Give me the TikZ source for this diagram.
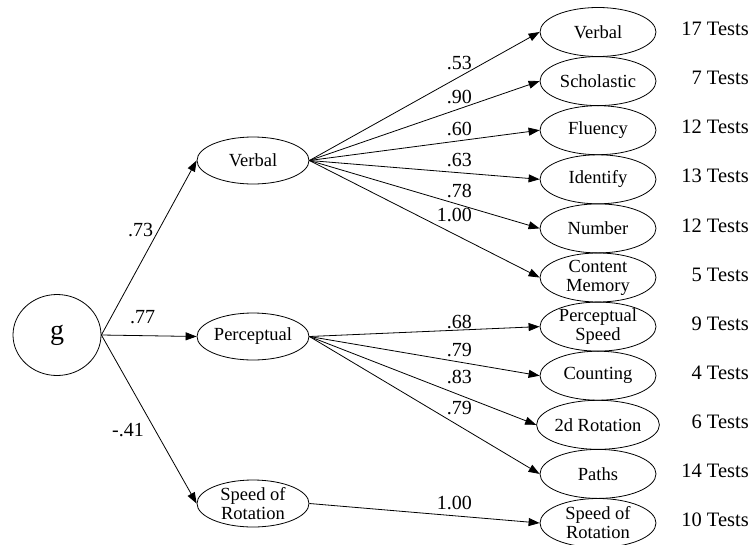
\documentclass[tikz,border=0pt]{standalone}
\usepackage{fontspec}
\setmainfont{Liberation Serif}
\usetikzlibrary{shapes.geometric,arrows.meta}
\begin{document}
\begin{tikzpicture}[x=1pt,y=-1pt,
  lv/.style={ellipse,draw,line width=0.8pt,inner sep=0pt,minimum width=112pt,minimum height=47pt,font=\fontsize{18.5}{20}\selectfont},
  rt/.style={ellipse,draw,line width=0.8pt,inner sep=0pt,minimum width=116pt,minimum height=49pt,font=\fontsize{18.5}{20}\selectfont},
  wt/.style={font=\fontsize{20}{22}\selectfont,inner sep=0pt,anchor=east},
  wl/.style={font=\fontsize{20}{22}\selectfont,inner sep=0pt},
  ts/.style={font=\fontsize{20.5}{22}\selectfont,anchor=east,inner sep=0pt},
  arr/.style={-{Triangle[length=11pt,width=8pt]},line width=0.8pt},
  lab/.style={font=\fontsize{18.5}{19}\selectfont,align=center}
]
\useasboundingbox (0,0) rectangle (753,544);

% g
\node[ellipse,draw,line width=0.8pt,inner sep=0pt,minimum width=88pt,minimum height=81pt,font=\fontsize{28}{30}\selectfont] (g) at (57,335) {g};

% middle factors
\node[lv] (vm) at (253,160.5) {Verbal};
\node[lv] (pm) at (253,336.5) {Perceptual};
\node[lv,label={[lab]center:{Speed of\\Rotation}}] (sm) at (253,503.5) {};

% right factors
\node[rt] (r1) at (598,32) {Verbal};
\node[rt] (r2) at (598,81.1) {Scholastic};
\node[rt] (r3) at (598,130.2) {Fluency};
\node[rt] (r4) at (598,179.3) {Identify};
\node[rt] (r5) at (598,228.4) {Number};
\node[rt,label={[lab]center:{Content\\Memory}}] (r6) at (598,277.5) {};
\node[rt,label={[lab]center:{Perceptual\\Speed}}] (r7) at (598,326.6) {};
\node[rt] (r8) at (598,375.7) {Counting};
\node[rt] (r9) at (598,424.8) {2d Rotation};
\node[rt] (r10) at (598,473.9) {Paths};
\node[rt,label={[lab]center:{Speed of\\Rotation}}] (r11) at (598,523) {};

% tests
\node[ts] (t1) at (749,29) {17 Tests};
\node[ts] (t2) at (749,78.1) {7 Tests};
\node[ts] (t3) at (749,127.2) {12 Tests};
\node[ts] (t4) at (749,176.3) {13 Tests};
\node[ts] (t5) at (749,225.4) {12 Tests};
\node[ts] (t6) at (749,274.5) {5 Tests};
\node[ts] (t7) at (749,323.6) {9 Tests};
\node[ts] (t8) at (749,372.7) {4 Tests};
\node[ts] (t9) at (749,421.8) {6 Tests};
\node[ts] (t10) at (749,470.9) {14 Tests};
\node[ts] (t11) at (749,520) {10 Tests};

% arrows from g
\draw[arr] (g.east) -- (vm.west);
\draw[arr] (g.east) -- (pm.west);
\draw[arr] (g.east) -- (sm.west);

% arrows from verbal
\foreach \i in {1,...,6} \draw[arr] (vm.east) -- (r\i.west);
% arrows from perceptual
\foreach \i in {7,...,10} \draw[arr] (pm.east) -- (r\i.west);
\draw[arr] (sm.east) -- (r11.west);

% weights
\node[wl] (w1) at (140.5,230) {.73};
\node[wl] (w2) at (142.5,317.5) {.77};
\node[wl] (w3) at (128,430) {-.41};

\node[wt] (a1) at (472,63) {.53};
\node[wt] (a2) at (472,97) {.90};
\node[wt] (a3) at (472,129) {.60};
\node[wt] (a4) at (472,160) {.63};
\node[wt] (a5) at (472,191) {.78};
\node[wt] (a6) at (472,215) {1.00};
\node[wt] (b1) at (472,322) {.68};
\node[wt] (b2) at (472,350) {.79};
\node[wt] (b3) at (472,377) {.83};
\node[wt] (b4) at (472,408) {.79};
\node[wt] (c1) at (472,503) {1.00};
\end{tikzpicture}
\end{document}
